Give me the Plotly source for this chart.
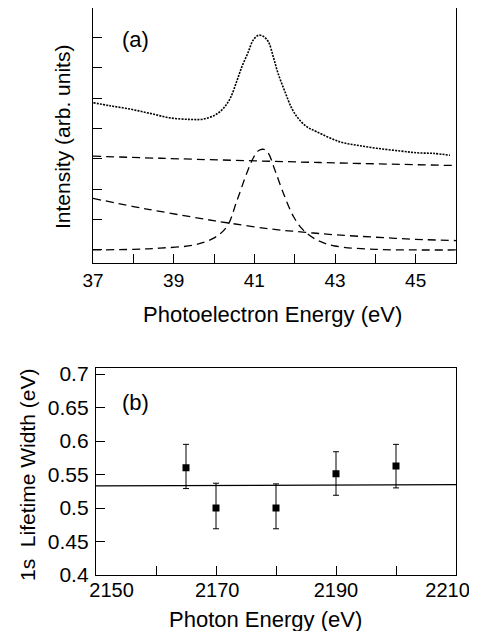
import plotly.graph_objects as go

# ---------- Panel (a) data ----------
meas_x = [37.01, 37.42, 37.92, 38.41, 38.91, 39.41, 39.73, 40.02, 40.23, 40.40,
          40.56, 40.69, 40.85, 40.97, 41.10, 41.22, 41.35, 41.47, 41.59, 41.76,
          41.93, 42.09, 42.30, 42.55, 43.12, 43.54, 44.03, 44.61, 45.03, 45.44, 45.85]
meas_y = [4.85, 4.75, 4.64, 4.50, 4.35, 4.30, 4.31, 4.44, 4.66, 4.99,
          5.54, 6.03, 6.52, 6.91, 7.07, 7.04, 6.85, 6.36, 5.81, 5.21,
          4.66, 4.33, 4.06, 3.89, 3.56, 3.45, 3.35, 3.26, 3.20, 3.18, 3.12]

flat_x = [37.0, 38.66, 42.63, 46.0]
flat_y = [3.09, 3.02, 2.88, 2.78]

bg_x = [37.0, 38.0, 38.66, 39.65, 40.4, 41.4, 42.2, 43.0, 44.0, 45.0, 46.0]
bg_y = [1.70, 1.43, 1.27, 1.04, 0.88, 0.69, 0.59, 0.50, 0.42, 0.35, 0.31]

peak_x = [37.0, 38.0, 38.66, 39.49, 39.98, 40.32, 40.56, 40.81, 40.97, 41.10,
          41.24, 41.35, 41.51, 41.72, 41.97, 42.21, 42.55, 43.0, 44.0, 45.0, 46.0]
peak_y = [0.0, 0.02, 0.06, 0.16, 0.38, 0.77, 1.59, 2.52, 3.02, 3.27,
          3.31, 3.18, 2.63, 1.87, 1.10, 0.66, 0.33, 0.13, 0.02, 0.0, 0.0]

a_xticks = [37, 38, 39, 40, 41, 42, 43, 44, 45, 46]
a_xlabels = ["37", "", "39", "", "41", "", "43", "", "45", ""]
a_yticks = [0, 1, 2, 3, 4, 5, 6, 7]

# ---------- Panel (b) data ----------
photon_e = [2165, 2170, 2180, 2190, 2200]
width_ev = [0.560, 0.500, 0.500, 0.551, 0.5625]
err_plus = [0.035, 0.037, 0.036, 0.033, 0.0325]
err_minus = [0.031, 0.031, 0.031, 0.032, 0.0325]
fit_x = [2150, 2210]
fit_y = [0.533, 0.535]

b_xticks = [2150, 2160, 2170, 2180, 2190, 2200, 2210]
b_label_pos = [2152.6, 2170.2, 2190.0, 2208.6]   # labels sit slightly inward at the ends
b_xlabels = ["2150", "2170", "2190", "2210"]
b_yticks = [0.4, 0.45, 0.5, 0.55, 0.6, 0.65, 0.7]
b_ylabels = ["0.4", "0.45", "0.5", "0.55", "0.6", "0.65", "0.7"]

# the page body has an 8px margin, so the figure is drawn 8px in from the corner
OFF = 8
W, H = 477 - 2 * OFF, 639 - 2 * OFF
FONT = "Arial, Liberation Sans, Helvetica, sans-serif"

def px(x):
    return min(max((x - OFF) / W, 0.0), 1.0)

def py(y):
    return min(max(1 - (y - OFF) / H, 0.0), 1.0)

fig = go.Figure()

dash_style = "8px,5px"
fig.add_trace(go.Scatter(x=meas_x, y=meas_y, mode="lines",
                         line=dict(color="black", width=1.6, dash="2px,1.2px", shape="spline"),
                         xaxis="x", yaxis="y", showlegend=False))
fig.add_trace(go.Scatter(x=flat_x, y=flat_y, mode="lines",
                         line=dict(color="black", width=1.3, dash=dash_style, shape="spline"),
                         xaxis="x", yaxis="y", showlegend=False))
fig.add_trace(go.Scatter(x=bg_x, y=bg_y, mode="lines",
                         line=dict(color="black", width=1.3, dash=dash_style, shape="spline"),
                         xaxis="x", yaxis="y", showlegend=False))
fig.add_trace(go.Scatter(x=peak_x, y=peak_y, mode="lines",
                         line=dict(color="black", width=1.3, dash=dash_style, shape="spline"),
                         xaxis="x", yaxis="y", showlegend=False))

fig.add_trace(go.Scatter(x=fit_x, y=fit_y, mode="lines",
                         line=dict(color="black", width=1.2),
                         xaxis="x3", yaxis="y2", showlegend=False))
fig.add_trace(go.Scatter(x=photon_e, y=width_ev, mode="markers",
                         marker=dict(symbol="square", size=7, color="black"),
                         error_y=dict(type="data", symmetric=False, array=err_plus,
                                      arrayminus=err_minus, color="black",
                                      thickness=1, width=3),
                         xaxis="x2", yaxis="y2", showlegend=False))

axis_common = dict(showline=True, linecolor="black", linewidth=1.3, mirror=True,
                   showgrid=False, zeroline=False, ticks="inside", ticklen=9,
                   tickwidth=1, tickcolor="black", automargin=False)

fig.update_layout(
    width=W, height=H,
    margin=dict(l=0, r=0, t=0, b=0),
    paper_bgcolor="white", plot_bgcolor="white",
    xaxis=dict(domain=[px(93), px(456)], range=[37, 46], anchor="y",
               tickmode="array", tickvals=a_xticks, ticktext=a_xlabels,
               tickfont=dict(family=FONT, size=19, color="black"),
               **axis_common),
    yaxis=dict(domain=[py(263), py(8)], range=[-0.43, 7.97], anchor="x",
               tickmode="array", tickvals=a_yticks, showticklabels=False,
               **axis_common),
    xaxis2=dict(domain=[px(96), px(456)], range=[2150, 2210], anchor="y2",
                tickmode="array", tickvals=b_xticks, showticklabels=False,
                **axis_common),
    xaxis3=dict(domain=[px(96), px(456)], range=[2150, 2210], anchor="y2",
                overlaying="x2", side="bottom", showline=False, showgrid=False,
                zeroline=False, ticks="", automargin=False,
                tickmode="array", tickvals=b_label_pos, ticktext=b_xlabels,
                ticklabeloverflow="allow", ticklabelstandoff=1,
                tickfont=dict(family=FONT, size=20, color="black")),
    yaxis2=dict(domain=[py(575), py(367.7)], range=[0.4, 0.7094], anchor="x2",
                tickmode="array", tickvals=b_yticks, ticktext=b_ylabels,
                ticklabelstandoff=2,
                tickfont=dict(family=FONT, size=21, color="black"),
                **axis_common),
)

title_font = dict(family=FONT, size=22, color="black")
ytitle_font = dict(family=FONT, size=21, color="black")
annotations = [
    dict(text="(a)", x=px(135), y=py(40), font=dict(family=FONT, size=22, color="black")),
    dict(text="(b)", x=px(135), y=py(403), font=dict(family=FONT, size=22, color="black")),
    dict(text="Photoelectron Energy (eV)", x=px(272), y=py(314), font=title_font),
    dict(text="Photon Energy (eV)", x=px(265), y=py(619), font=title_font),
    dict(text="Intensity (arb. units)", x=px(62), y=py(137), font=ytitle_font, textangle=-90),
    dict(text="1s  Lifetime Width (eV)", x=px(27), y=py(475), font=ytitle_font, textangle=-90),
]
for a in annotations:
    a.update(xref="paper", yref="paper", showarrow=False, xanchor="center", yanchor="middle")
fig.update_layout(annotations=annotations)

fig.write_html("out.html")
